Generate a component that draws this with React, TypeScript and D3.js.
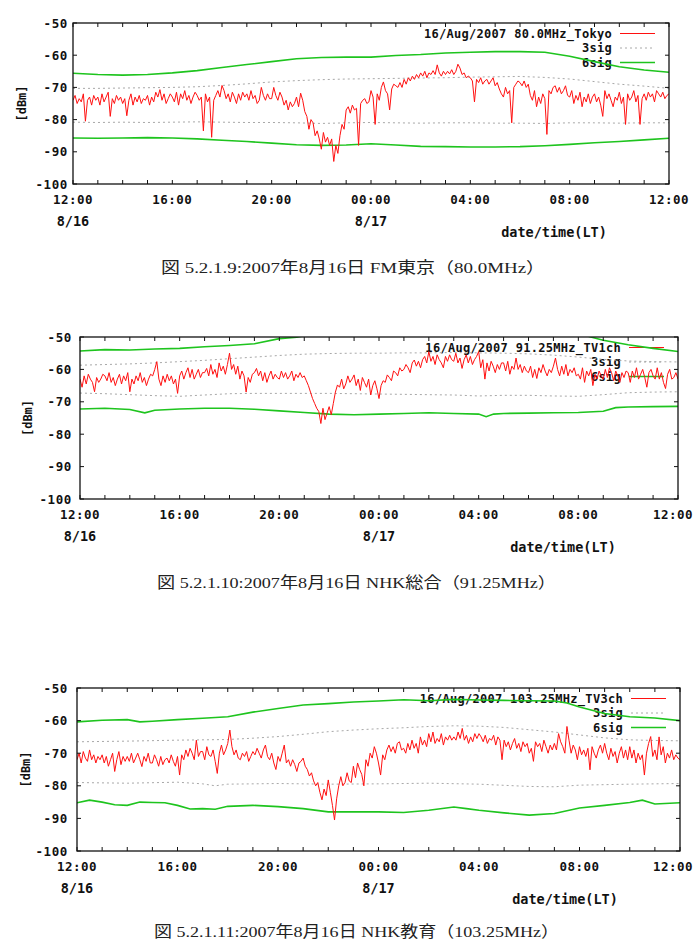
import React from "react";
import * as d3 from "d3";

// Observation window: 2007-08-16 12:00 to 2007-08-17 12:00 (LT)
const START = new Date(2007, 7, 16, 12, 0, 0);
const END = new Date(2007, 7, 17, 12, 0, 0);
const SAMPLES_PER_HOUR = 12;

const Y_TICKS = [-100, -90, -80, -70, -60, -50];
const DATE_LABELS: [number, string][] = [
  [0, "8/16"],
  [12, "8/17"],
];

// ---- FM Tokyo 80.0 MHz (received level, dBm, one row per hour, 5-minute samples) ----
const fmTokyoLevel = [
  -74, -72.5, -75, -73.5, -74.5, -72, -80.5, -74, -73, -75.5, -72.5, -74,
  -73, -75.5, -72, -74.5, -73, -71.5, -79, -73.5, -75, -72.5, -74, -73,
  -75, -73.5, -78.8, -74, -72, -75.5, -73, -74.5, -72.5, -75, -73.5, -74,
  -72.5, -75.5, -73, -74.5, -71.5, -73, -70.7, -74, -72, -75, -73.5, -72,
  -73, -74.5, -71.5, -75.5, -72, -73.5, -71, -74, -72.5, -75, -73, -71.5,
  -72.5, -74, -73, -83.5, -72, -74.5, -73, -85.5, -74, -72.5, -71, -73,
  -69.4, -71, -73.5, -72, -74.5, -71.5, -73, -75, -72, -74, -71.5, -73,
  -72, -74, -71, -73.5, -72.5, -75, -74, -70, -72.5, -74, -72, -73.5,
  -73.5, -70, -72.5, -74, -71.5, -73, -75.5, -74, -77, -74.5, -76, -75,
  -73, -76, -71.8, -74, -77.5, -79, -83, -80, -81, -85, -83.5, -86,
  -89.2, -84, -87, -85.5, -88, -86, -93, -88, -90.5, -85, -81.5, -83,
  -77, -76, -78, -75.5, -77, -76.5, -88, -75, -74, -73.5, -75, -74.5,
  -71, -73, -81.5, -72, -74, -70, -68.3, -71, -72, -77, -70.5, -69,
  -69.5, -70, -68.5, -70, -67.5, -69, -67, -68, -66.5, -67.5, -66, -67,
  -65.5, -66.5, -65, -67, -65.5, -66, -64.8, -66, -63, -65.5, -66.5, -65,
  -66, -65, -65.8, -64.5, -66, -65, -62.8, -64, -66, -65.5, -67, -66.5,
  -67, -68, -74.5, -67.5, -68.5, -67, -69, -68, -67.5, -69, -68, -67,
  -69.5, -68.5, -70.5, -72, -73, -70, -72, -71, -81, -70, -69, -68,
  -68.5, -69.5, -68, -70, -69, -72.5, -74, -71, -76, -73, -75, -72,
  -73.5, -84.6, -71, -72, -70, -69.5, -71.5, -70, -72, -71, -69.5, -72.5,
  -73, -71, -75, -72.5, -74, -71.5, -76, -73, -74.5, -72, -75, -73,
  -72, -74.5, -73, -75.5, -79, -71, -73.5, -72, -74, -76, -73, -74,
  -71.5, -75, -73, -81.5, -72, -74, -73, -71, -74.5, -72.5, -81.5, -73.5,
  -72, -74, -71.5, -73, -72, -74.5, -71, -72, -73, -71.5, -73.5, -72.5,
  -72,
];
const fmTokyo3sigUpper: [number, number][] = [
  [0, -70.3], [1, -70.3], [2, -70.2], [3, -70.1], [4, -70], [5, -69.8], [6, -69.4],
  [7, -68.9], [8, -68.3], [9, -67.9], [10, -67.6], [11, -67.4], [12, -67.3], [13, -67.2],
  [14, -67.1], [15, -67], [16, -66.8], [17, -66.7], [18, -66.6], [19, -66.9], [20, -67.4],
  [21, -68.2], [22, -69], [23, -69.6], [24, -70.3],
];
const fmTokyo3sigLower: [number, number][] = [
  [0, -80.8], [1, -80.9], [2, -80.8], [3, -80.9], [4, -80.8], [5, -80.7], [6, -80.8],
  [7, -80.9], [8, -80.9], [9, -81], [10, -81.2], [11, -81], [12, -80.9], [13, -81],
  [14, -81.1], [15, -81], [16, -81], [17, -81.1], [18, -81.1], [19, -81.2], [20, -81],
  [21, -81], [22, -81.1], [23, -81], [24, -81],
];
const fmTokyo6sigUpper: [number, number][] = [
  [0, -65.6], [1, -66], [2, -66.2], [3, -66], [4, -65.5], [5, -64.8], [6, -63.8],
  [7, -62.9], [8, -62], [9, -61.1], [10, -60.7], [11, -60.6], [12, -60.6], [13, -60.1],
  [14, -59.8], [15, -59.3], [16, -59.1], [17, -58.9], [18, -58.9], [19, -59.1], [20, -60.3],
  [21, -62], [22, -63.6], [23, -64.6], [24, -65.3],
];
const fmTokyo6sigLower: [number, number][] = [
  [0, -85.7], [1, -85.8], [2, -85.7], [3, -85.6], [4, -85.7], [5, -86], [6, -86.4],
  [7, -86.8], [8, -87.3], [9, -87.8], [10, -88], [11, -87.9], [12, -87.5], [13, -87.9],
  [14, -88.3], [15, -88.4], [16, -88.5], [17, -88.5], [18, -88.4], [19, -88.1], [20, -87.7],
  [21, -87.2], [22, -86.8], [23, -86.3], [24, -85.8],
];

// ---- NHK General TV1ch 91.25 MHz ----
const tv1chLevel = [
  -63, -65.5, -62, -64.5, -61.5, -63, -64, -66.9, -62.5, -64, -63, -61.5,
  -62, -63.5, -61, -64, -62.5, -65, -63, -61.5, -64.5, -62, -63.5, -61,
  -66.9, -63, -64.5, -62, -63.5, -61, -64, -62.5, -65, -63, -61.5, -62,
  -60, -57.6, -63, -65, -62, -64, -61.5, -63.5, -62, -64.5, -63, -67.4,
  -62, -60.5, -63, -61, -59.5, -62.5, -60, -63, -61.5, -60, -62.5, -61,
  -61, -59.7, -62, -58.5, -61.5, -60, -62.5, -58, -60.5, -59, -61.5, -58.5,
  -55, -60, -58.5, -61.5, -59, -63, -60.5, -62, -67, -62.5, -64, -61.5,
  -61, -59.7, -62, -60.5, -63.5, -61, -64, -62, -60.5, -63, -61.5, -62.5,
  -63, -60.5, -62.5, -61, -63, -62, -60.5, -63.5, -61.5, -62.5, -61, -62.5,
  -62, -63.5, -65, -67, -69, -70.5, -72, -73, -76.7, -72, -75.5, -73.5,
  -71.5, -74, -70.5, -67, -64.8, -65.5, -63, -66, -64.5, -62, -64, -63,
  -61.7, -65, -63, -66.5, -62.5, -64, -65.5, -63, -67.9, -65, -63.5, -66,
  -69, -65, -63.5, -64, -61.7, -62.5, -63.5, -60.5, -61, -62, -59.5, -60.5,
  -60, -58.5, -59.5, -61, -58, -57.1, -59, -57.5, -59.5, -57, -56, -58,
  -54.5, -57.5, -56, -58.5, -55.5, -57, -58, -59.5, -56, -57.5, -55.5, -57,
  -57.5, -55, -58, -56.5, -59.7, -57, -55.5, -58, -56, -58.5, -57, -56,
  -54.5, -59.5, -57, -63, -58, -60.5, -57.5, -59, -61, -58.5, -60, -58,
  -58, -60.5, -57.5, -61.5, -59, -60, -56.5, -60, -58.5, -61, -59, -60.5,
  -61, -59, -62.5, -60, -62.8, -59.5, -61, -58.5, -60.5, -62, -60, -61,
  -59, -56.5, -60, -62, -59, -61.5, -58.5, -62, -60, -61, -59.5, -62,
  -61.5, -63, -59.5, -64, -60.5, -62, -60, -65, -61.5, -63, -60.5, -62,
  -63, -60, -62.5, -59.5, -61, -63.5, -60.5, -62, -64, -61, -62.5, -60.5,
  -61, -64, -60.5, -62.5, -59.5, -63, -61.5, -60, -62.5, -65.5, -61, -60,
  -62, -63, -59.5, -63, -61, -64, -65.9, -61.5, -60, -63, -62.5, -61,
  -63,
];
const tv1ch3sigUpper: [number, number][] = [
  [0, -58.7], [1, -58.5], [2, -58.3], [3, -58], [4, -57.6], [5, -57.2], [6, -56.7],
  [7, -56.2], [8, -55.7], [9, -55.3], [10, -55.1], [11, -55], [12, -55], [13, -54.9],
  [14, -54.9], [15, -54.8], [16, -54.9], [17, -55], [18, -55.2], [19, -55.6], [20, -56.2],
  [21, -56.9], [22, -57.4], [23, -57.6], [24, -57.7],
];
const tv1ch3sigLower: [number, number][] = [
  [0, -67.3], [1, -67.5], [2, -67.8], [3, -68.1], [4, -68.3], [5, -67.9], [6, -67.5],
  [7, -67.4], [8, -67.4], [9, -67.4], [10, -67.4], [11, -67.5], [12, -67.6], [13, -67.7],
  [14, -67.8], [15, -67.9], [16, -68.2], [17, -68], [18, -68], [19, -68.2], [20, -68.3],
  [21, -67.8], [22, -67.2], [23, -67], [24, -66.9],
];
const tv1ch6sigUpper: [number, number][] = [
  [0, -54.3], [1, -53.9], [2, -54], [3, -53.7], [4, -53.5], [5, -53], [6, -52.6],
  [7, -52.1], [8, -50.5], [8.7, -50.1], [9, -49.6], [10, -48.5], [14, -48], [18, -48.2],
  [20, -48.8], [20.5, -50], [21, -51], [22, -52.4], [23, -53.5], [24, -54.5],
];
const tv1ch6sigLower: [number, number][] = [
  [0, -72.2], [1, -72], [2, -72.4], [2.6, -73.4], [3, -72.6], [4, -72.2], [5, -72],
  [6, -72], [7, -72.3], [8, -72.8], [9, -73.3], [10, -73.8], [11, -74], [12, -73.8],
  [13, -73.6], [14, -73.4], [15, -73.6], [16, -73.8], [16.3, -74.6], [16.6, -73.8],
  [17, -73.6], [18, -73.5], [19, -73.4], [20, -73.3], [21, -72.9], [21.5, -71.8],
  [22, -71.6], [23, -71.5], [24, -71.4],
];

// ---- NHK Educational TV3ch 103.25 MHz ----
const tv3chLevel = [
  -72, -70, -73, -69.5, -71.5, -72.5, -69, -72, -70.5, -73, -71, -72,
  -70.5, -73, -71, -74, -72, -70, -75.6, -72, -69.5, -73.5, -71, -72.5,
  -71, -72.5, -70, -73, -71.5, -70, -72, -74.1, -71, -72.5, -70, -73,
  -73, -70.5, -72, -74, -71, -73.5, -72, -71.5, -73, -70.5, -72.5, -74,
  -71, -76.7, -70.5, -72, -69, -71, -68.5, -70, -72, -66, -71, -69.5,
  -69.5, -72, -68, -70.5, -71, -69, -72.5, -76.2, -70, -67.5, -70.5, -69,
  -67, -62.9, -68, -70.5, -69, -71.5, -72, -70, -71, -69.5, -72.5, -71,
  -69.5, -70.5, -68.5, -70, -71.5, -69, -67.5, -71, -72, -70, -73, -75,
  -71, -72.5, -70, -67.5, -73, -72, -74, -72, -73.5, -75.6, -73, -72.5,
  -71.5, -74, -75, -77, -76, -78.5, -80, -79, -82, -84.3, -81, -83,
  -78.2, -82, -86, -90.5, -84, -80, -77.2, -80, -79, -76, -78.5, -79,
  -74, -77.5, -73, -75, -76.5, -80, -72, -74, -70, -71.5, -68, -70,
  -73, -76.7, -70.5, -72, -69, -67.5, -69.5, -68, -70, -67, -66.5, -69,
  -68.5, -70, -67, -69, -66, -68.5, -67, -70, -65, -67.5, -66, -68,
  -64, -66.5, -63.5, -67, -65.5, -66.5, -64, -67.5, -65, -66, -64.5, -66,
  -65, -66, -63.5, -65.5, -62.4, -66, -64.5, -67, -65, -66.5, -64, -65.5,
  -64, -65, -66.5, -64.5, -67, -65.5, -66, -64.5, -67.5, -65, -66, -72,
  -66, -68, -66.5, -69, -67, -65.5, -68.5, -67, -69.5, -66.5, -68, -67,
  -70, -68.5, -72.5, -66.5, -68, -67, -69.5, -66, -68, -70, -67.5, -69,
  -67, -69, -64, -66.5, -68, -70, -61.8, -66, -70, -67.5, -69, -72,
  -68, -70.5, -69, -71, -68.5, -75.1, -68, -70, -71.5, -69, -67.5, -70,
  -67, -70, -72, -68.5, -71, -69.5, -73, -70, -68, -71.5, -69, -72,
  -68, -71.5, -69, -73, -70, -72, -70.5, -76.7, -70, -67, -64.9, -71,
  -69, -72, -65, -70.5, -68, -73, -70, -71.5, -69, -72, -70.5, -71.5,
  -72,
];
const tv3ch3sigUpper: [number, number][] = [
  [0, -66.5], [2, -66.3], [4, -66], [6, -65.8], [7, -65.4], [8, -64.9], [9, -64.2],
  [10, -63.4], [11, -62.9], [12, -62.5], [13, -62.2], [14, -61.8], [15, -61.6], [16, -61.7],
  [17, -62.1], [18, -62.8], [19, -63.5], [20, -64.4], [21, -65.3], [22, -65.9], [23, -66.1],
  [24, -66.2],
];
const tv3ch3sigLower: [number, number][] = [
  [0, -79], [2, -79.2], [4, -78.9], [5, -79.4], [5.5, -80], [6, -79.5], [8, -79.3],
  [10, -79.5], [12, -79.4], [14, -79.2], [16, -79.5], [18, -80.2], [19, -80.3], [20, -79.8],
  [22, -79.5], [24, -79.3],
];
const tv3ch6sigUpper: [number, number][] = [
  [0, -60.4], [1, -59.9], [2, -59.7], [2.5, -60.4], [3, -60.2], [4, -59.7], [5, -59.3],
  [6, -58.8], [7, -57.4], [8, -56.3], [9, -55.2], [10, -54.8], [11, -54.3], [12, -54],
  [13, -53.6], [14, -53.9], [15, -53.5], [16, -53.7], [17, -53.8], [18, -53.9], [19, -54],
  [19.5, -54.6], [20, -55.8], [21, -57.8], [22, -58.8], [23, -59.2], [24, -60],
];
const tv3ch6sigLower: [number, number][] = [
  [0, -85.2], [0.5, -84.4], [1, -85], [1.5, -85.8], [2, -86], [2.5, -85], [3, -85.1],
  [3.5, -85.2], [4, -86], [4.5, -87.1], [5, -87], [5.5, -87.2], [6, -86.3], [7, -86],
  [8, -86.4], [9, -87], [10, -88], [11, -88], [12, -88], [13, -88.2], [14, -87.5],
  [15, -86.5], [15.5, -87], [16, -87.5], [17, -88.3], [18, -89], [19, -88.5], [20, -86.8],
  [21, -86], [22, -85.1], [22.5, -84.4], [23, -85.6], [24, -85.2],
];

type PanelSpec = {
  id: string;
  title: string;
  caption: string;
  level: number[];
  sig3: [number, number][][];
  sig6: [number, number][][];
  left: number;
  right: number;
  top: number;
  bottom: number;
  yLabelX: number;
  yTickGap: number;
  captionX0: number;
  captionX1: number;
  captionY: number;
};

const panels: PanelSpec[] = [
  {
    id: "fm",
    title: "16/Aug/2007 80.0MHz_Tokyo",
    caption: "図 5.2.1.9:2007年8月16日 FM東京（80.0MHz）",
    level: fmTokyoLevel,
    sig3: [fmTokyo3sigUpper, fmTokyo3sigLower],
    sig6: [fmTokyo6sigUpper, fmTokyo6sigLower],
    left: 73, right: 669, top: 23, bottom: 184,
    yLabelX: 21, yTickGap: 5, captionX0: 161, captionX1: 545, captionY: 273,
  },
  {
    id: "tv1",
    title: "16/Aug/2007 91.25MHz_TV1ch",
    caption: "図 5.2.1.10:2007年8月16日 NHK総合（91.25MHz）",
    level: tv1chLevel,
    sig3: [tv1ch3sigUpper, tv1ch3sigLower],
    sig6: [tv1ch6sigUpper, tv1ch6sigLower],
    left: 80, right: 678, top: 337, bottom: 499,
    yLabelX: 27.5, yTickGap: 8, captionX0: 157, captionX1: 556, captionY: 588,
  },
  {
    id: "tv3",
    title: "16/Aug/2007 103.25MHz_TV3ch",
    caption: "図 5.2.1.11:2007年8月16日 NHK教育（103.25MHz）",
    level: tv3chLevel,
    sig3: [tv3ch3sigUpper, tv3ch3sigLower],
    sig6: [tv3ch6sigUpper, tv3ch6sigLower],
    left: 77, right: 680, top: 688, bottom: 851,
    yLabelX: 25, yTickGap: 9, captionX0: 154, captionX1: 559, captionY: 937,
  },
];

const RED = "#ff1010";
const GREEN = "#1ec41e";
const GRAY = "#a8a8a8";
const MONO = "'DejaVu Sans Mono', 'Liberation Mono', monospace";
const CAPTION_FONT = "'Liberation Serif', 'DejaVu Serif', 'Noto Sans CJK JP', serif";
const PAGE_W = 694;

const atHour = (h: number) => new Date(START.getTime() + h * 3600000);

function Panel({ p }: { p: PanelSpec }) {
  const x = d3.scaleTime().domain([START, END]).range([p.left, p.right]);
  const y = d3.scaleLinear().domain([-100, -50]).range([p.bottom, p.top]);
  const line = d3
    .line<[number, number]>()
    .x((d) => x(atHour(d[0])))
    .y((d) => y(d[1]));

  const levelPts: [number, number][] = p.level.map((v, i) => [i / SAMPLES_PER_HOUR, v]);
  const hourTicks = x.ticks(d3.timeHour.every(1)!);
  const labelTicks = x.ticks(d3.timeHour.every(4)!);
  const fmt = d3.timeFormat("%H:%M");
  const tickLen = 4;
  const clipId = `clip-${p.id}`;

  const legendTextX = p.right - 57;
  const legendX0 = p.right - 49;
  const legendX1 = p.right - 14;
  const rows = [p.top + 10.5, p.top + 25, p.top + 39.5];

  return (
    <g>
      <defs>
        <clipPath id={clipId}>
          <rect x={p.left} y={p.top} width={p.right - p.left} height={p.bottom - p.top} />
        </clipPath>
      </defs>

      {/* legend */}
      <g fontFamily={MONO} fontWeight="bold" fontSize={12} fill="#111" textAnchor="end">
        <text x={legendTextX} y={rows[0] + 4} letterSpacing={0.3}>{p.title}</text>
        <text x={legendTextX} y={rows[1] + 4} letterSpacing={0.3}>3sig</text>
        <text x={legendTextX} y={rows[2] + 4} letterSpacing={0.3}>6sig</text>
      </g>
      <line x1={legendX0} x2={legendX1} y1={rows[0]} y2={rows[0]} stroke={RED} strokeWidth={1.2} />
      <line x1={legendX0} x2={legendX1} y1={rows[1]} y2={rows[1]} stroke={GRAY} strokeWidth={1} strokeDasharray="2 3" />
      <line x1={legendX0} x2={legendX1} y1={rows[2]} y2={rows[2]} stroke={GREEN} strokeWidth={1.4} />

      {/* series */}
      <g clipPath={`url(#${clipId})`} fill="none">
        {p.sig3.map((s, i) => (
          <path key={`s3-${i}`} d={line(s) ?? ""} stroke={GRAY} strokeWidth={1} strokeDasharray="2 3" />
        ))}
        {p.sig6.map((s, i) => (
          <path key={`s6-${i}`} d={line(s) ?? ""} stroke={GREEN} strokeWidth={1.6} />
        ))}
        <path d={line(levelPts) ?? ""} stroke={RED} strokeWidth={1} strokeLinejoin="miter" />
      </g>

      {/* ticks */}
      <g stroke="#111" strokeWidth={1}>
        {hourTicks.map((t, i) => (
          <g key={`xt-${i}`}>
            <line x1={x(t)} x2={x(t)} y1={p.bottom} y2={p.bottom - tickLen} />
            <line x1={x(t)} x2={x(t)} y1={p.top} y2={p.top + tickLen} />
          </g>
        ))}
        {Y_TICKS.map((v) => (
          <g key={`yt-${v}`}>
            <line x1={p.left} x2={p.left + tickLen} y1={y(v)} y2={y(v)} />
            <line x1={p.right} x2={p.right - tickLen} y1={y(v)} y2={y(v)} />
          </g>
        ))}
      </g>
      <rect x={p.left} y={p.top} width={p.right - p.left} height={p.bottom - p.top} fill="none" stroke="#111" strokeWidth={1.3} />

      {/* axis labels */}
      <g fontFamily={MONO} fontWeight="bold" fontSize={12.5} fill="#111">
        {Y_TICKS.map((v) => (
          <text key={`yl-${v}`} x={p.left - p.yTickGap} y={y(v) + 4.5} textAnchor="end" letterSpacing={0.6}>
            {v}
          </text>
        ))}
        {labelTicks.map((t, i) => (
          <text
            key={`xl-${i}`}
            x={Math.min(x(t), PAGE_W - 21)}
            y={p.bottom + 20}
            textAnchor="middle"
            letterSpacing={0.5}
          >
            {fmt(t)}
          </text>
        ))}
        <text
          transform={`translate(${p.yLabelX},${(p.top + p.bottom) / 2}) rotate(-90)`}
          textAnchor="middle"
          dy={4.5}
          fontSize={12}
        >
          [dBm]
        </text>
      </g>
      <g fontFamily={MONO} fontWeight="bold" fontSize={13.5} fill="#111">
        {DATE_LABELS.map(([h, label]) => (
          <text key={label} x={x(atHour(h))} y={p.bottom + 42} textAnchor="middle">
            {label}
          </text>
        ))}
        <text x={p.right - 115} y={p.bottom + 53} textAnchor="middle">
          date/time(LT)
        </text>
      </g>

      {/* figure caption */}
      <text
        x={p.captionX0}
        y={p.captionY}
        fontFamily={CAPTION_FONT}
        fontSize={15.5}
        fill="#222"
        textLength={p.captionX1 - p.captionX0}
        lengthAdjust="spacingAndGlyphs"
      >
        {p.caption}
      </text>
    </g>
  );
}

export default function App() {
  return (
    <svg
      width={PAGE_W}
      height={942}
      viewBox={`0 0 ${PAGE_W} 942`}
      style={{ position: "absolute", left: 0, top: 0, background: "#fff" }}
    >
      <rect width={PAGE_W} height={942} fill="#fff" />
      {panels.map((p) => (
        <Panel key={p.id} p={p} />
      ))}
    </svg>
  );
}
